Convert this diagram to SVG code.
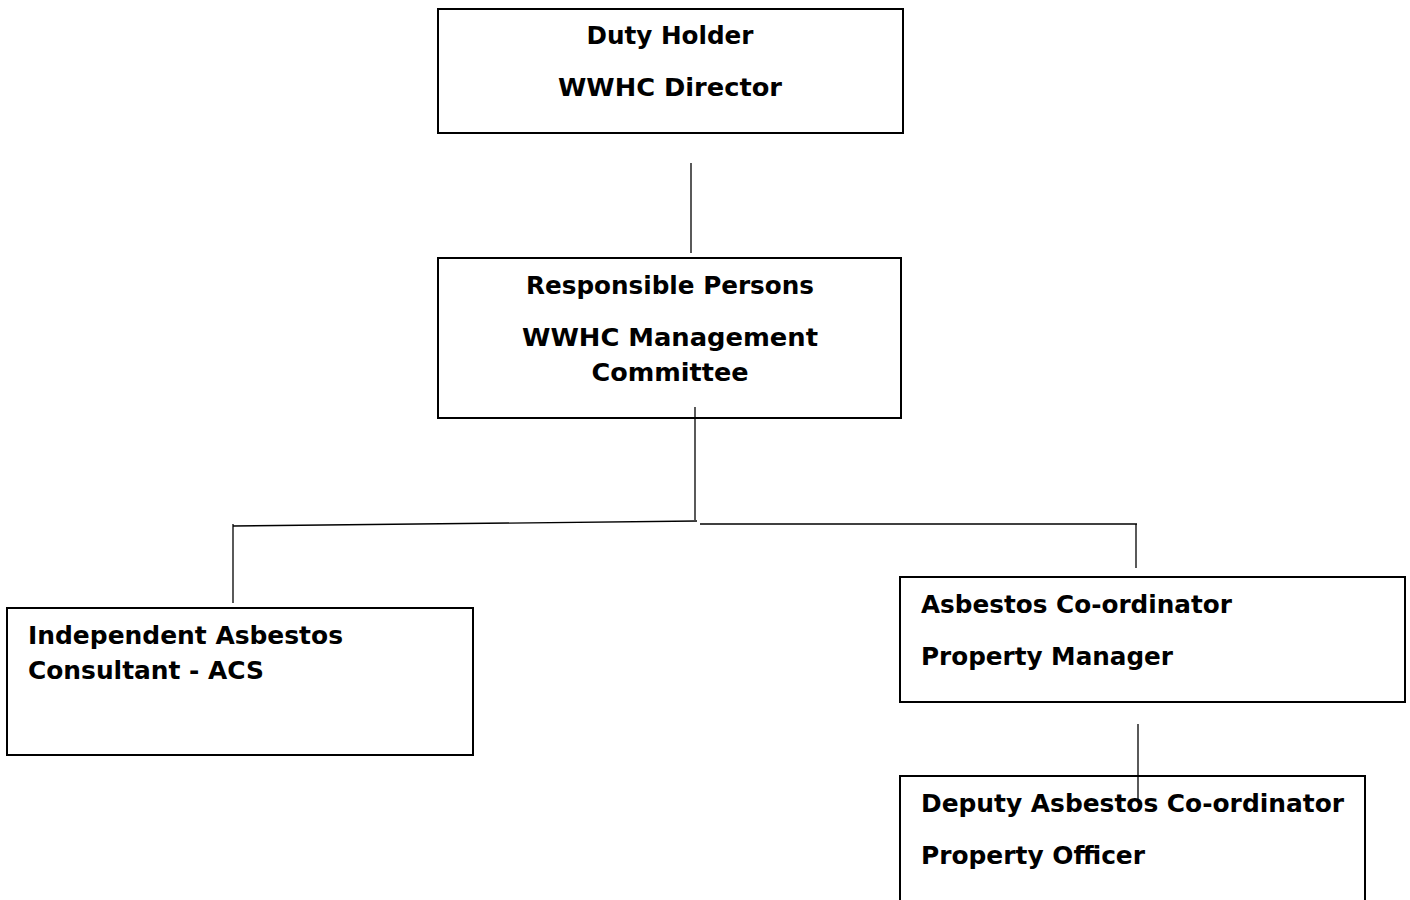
<svg xmlns="http://www.w3.org/2000/svg" width="1410" height="900" viewBox="0 0 1410 900">
<style>
.box{fill:#fff;stroke:#000;stroke-width:2}
.t{font-family:"DejaVu Sans","Liberation Sans",sans-serif;font-weight:bold;font-size:24px;fill:#000}
.c{text-anchor:middle}
.ln{stroke:#000;stroke-width:1.3;fill:none}
</style>
<rect width="1410" height="900" fill="#fff"/>
<g id="duty-holder">
<rect class="box" x="438" y="9" width="465" height="124"/>
<text class="t c" x="670" y="44" textLength="167" lengthAdjust="spacingAndGlyphs">Duty Holder</text>
<text class="t c" x="670" y="96" textLength="224" lengthAdjust="spacingAndGlyphs">WWHC Director</text>
</g>
<g id="responsible-persons">
<rect class="box" x="438" y="258" width="463" height="160"/>
<text class="t c" x="670" y="294" textLength="288" lengthAdjust="spacingAndGlyphs">Responsible Persons</text>
<text class="t c" x="670" y="346" textLength="296" lengthAdjust="spacingAndGlyphs">WWHC Management</text>
<text class="t c" x="670" y="381" textLength="157" lengthAdjust="spacingAndGlyphs">Committee</text>
</g>
<g id="independent-consultant">
<rect class="box" x="7" y="608" width="466" height="147"/>
<text class="t" x="28" y="644" textLength="315" lengthAdjust="spacingAndGlyphs">Independent Asbestos</text>
<text class="t" x="28" y="679" textLength="236" lengthAdjust="spacingAndGlyphs">Consultant - ACS</text>
</g>
<g id="asbestos-coordinator">
<rect class="box" x="900" y="577" width="505" height="125"/>
<text class="t" x="921" y="613" textLength="311" lengthAdjust="spacingAndGlyphs">Asbestos Co-ordinator</text>
<text class="t" x="921" y="665" textLength="252" lengthAdjust="spacingAndGlyphs">Property Manager</text>
</g>
<g id="deputy-coordinator">
<rect class="box" x="900" y="776" width="465" height="140"/>
<text class="t" x="921" y="812" textLength="423" lengthAdjust="spacingAndGlyphs">Deputy Asbestos Co-ordinator</text>
<text class="t" x="921" y="864" textLength="224" lengthAdjust="spacingAndGlyphs">Property Officer</text>
</g>
<g id="connectors">
<line class="ln" x1="691" y1="163" x2="691" y2="253"/>
<line class="ln" x1="695" y1="407" x2="695" y2="520"/>
<line class="ln" x1="233" y1="526" x2="697" y2="521"/>
<line class="ln" x1="700" y1="524" x2="1137" y2="524"/>
<line class="ln" x1="233" y1="524" x2="233" y2="603"/>
<line class="ln" x1="1136" y1="524" x2="1136" y2="568"/>
<line class="ln" x1="1138" y1="724" x2="1138" y2="803"/>
</g>
</svg>
